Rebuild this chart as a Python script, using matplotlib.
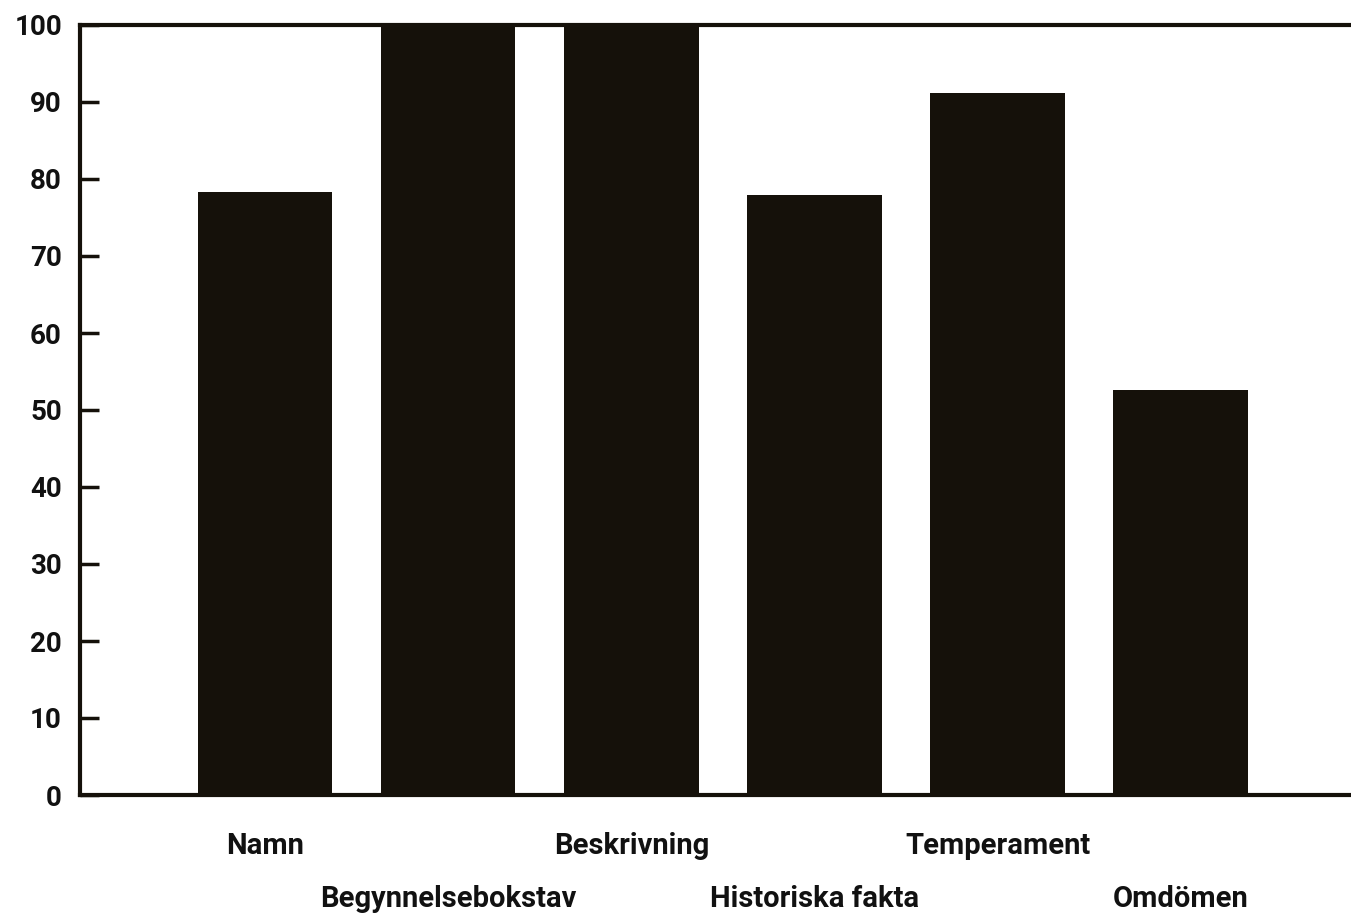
import matplotlib
matplotlib.use("Agg")
import matplotlib.pyplot as plt
import numpy as np

# data
categories = ["Namn", "Begynnelsebokstav", "Beskrivning",
              "Historiska fakta", "Temperament", "Omdömen"]
values = [78.3, 100, 99.7, 77.9, 91.2, 52.6]
yticks = [0, 10, 20, 30, 40, 50, 60, 70, 80, 90, 100]

plt.rcParams['font.family'] = ['Roboto', 'DejaVu Sans']
plt.rcParams['font.weight'] = 'bold'

fig = plt.figure(figsize=(13.51, 9.15), dpi=100)
ax = fig.add_axes([80 / 1351, 120 / 915, 1 - 80 / 1351, 770 / 915])

bar_color = "#15110a"
x = np.arange(len(categories))
ax.bar(x, values, width=0.735, color=bar_color, zorder=1)

ax.set_xlim(-1.01, 5.93)
ax.set_ylim(0, 100)
ax.set_yticks(yticks)
ax.set_yticklabels([str(t) for t in yticks], fontsize=20, fontweight='bold', color="#111111")
ax.tick_params(axis='y', direction='in', length=14, width=2.5, color=bar_color, pad=13)

ax.set_xticks(x)
ax.set_xticklabels(categories, fontsize=21, fontweight='bold', color="#111111")
ax.tick_params(axis='x', length=0)
for i, lab in enumerate(ax.get_xticklabels()):
    # staggered labels: every other one on a second row
    lab.set_y(-0.042 if i % 2 == 0 else -0.11)

for side in ['left', 'bottom', 'top']:
    ax.spines[side].set_linewidth(3)
    ax.spines[side].set_color(bar_color)
ax.spines['right'].set_visible(False)

fig.savefig("out.png", dpi=100)
